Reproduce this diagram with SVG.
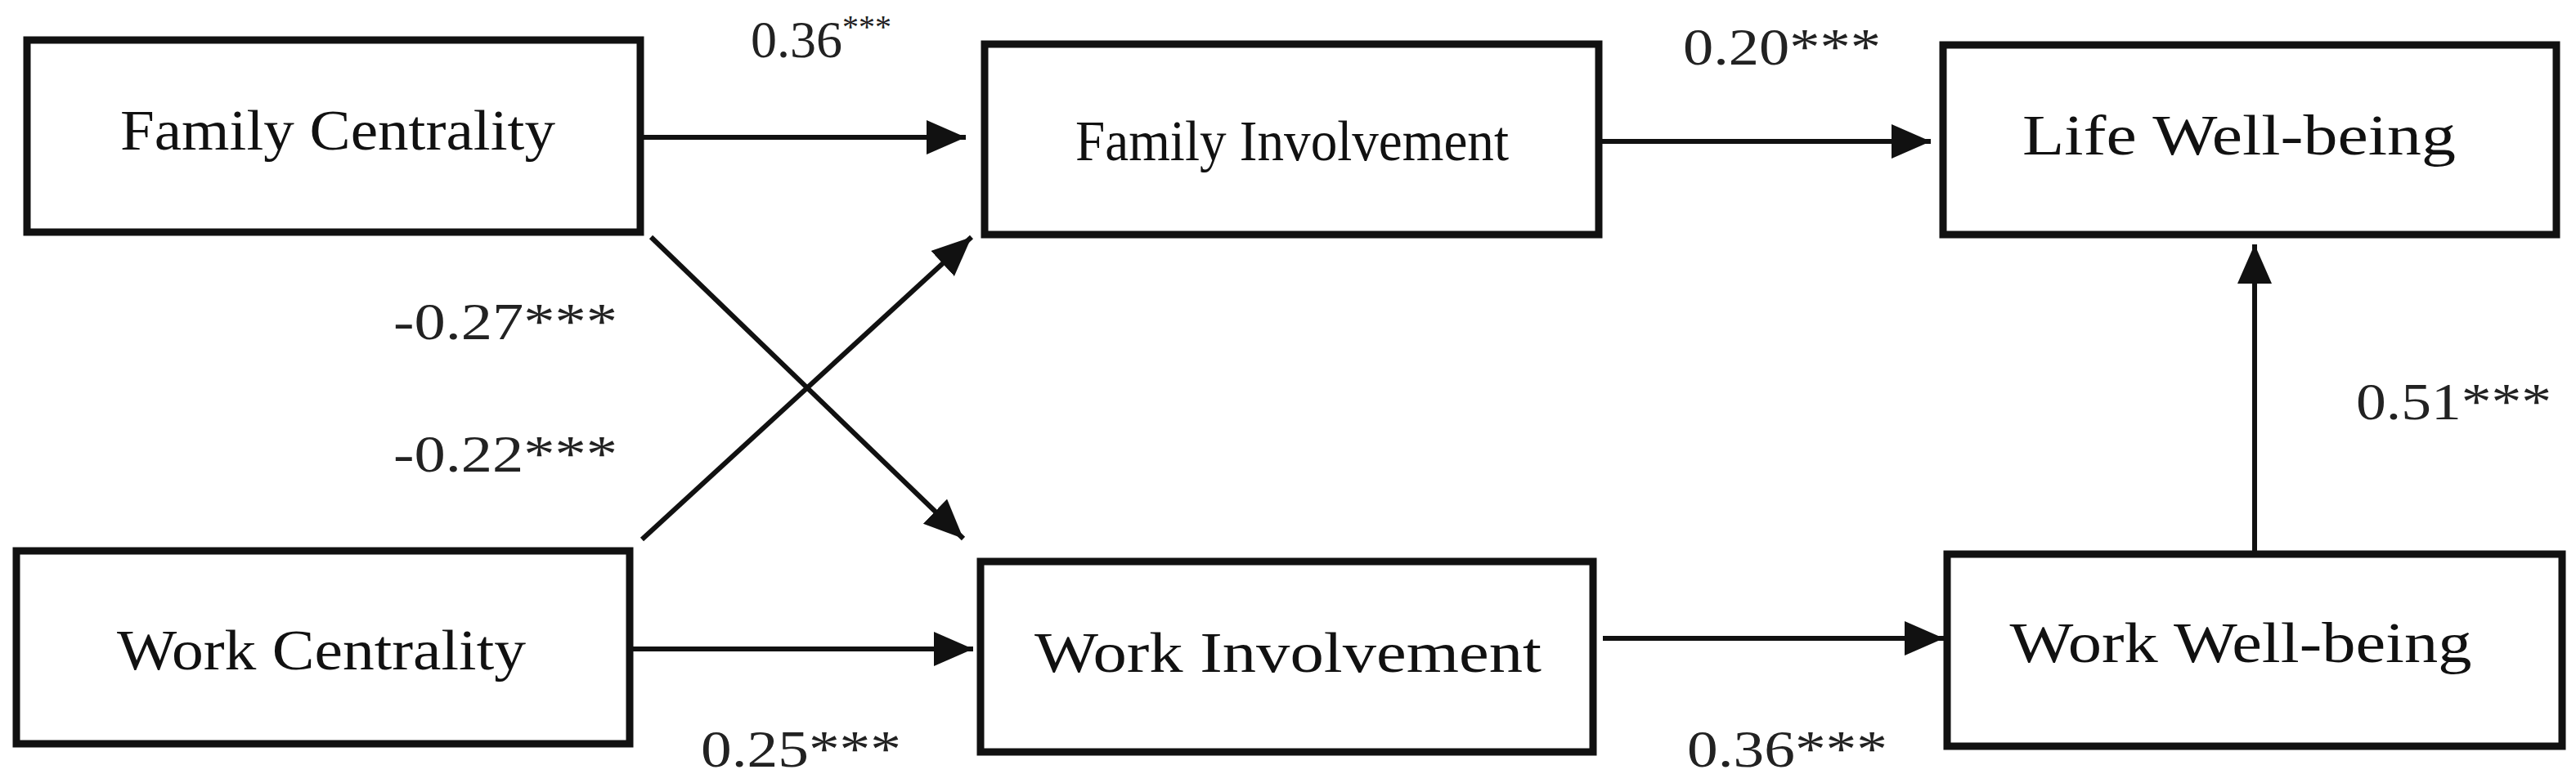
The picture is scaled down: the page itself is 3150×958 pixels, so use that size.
<svg xmlns="http://www.w3.org/2000/svg" width="3150" height="958" viewBox="0 0 3150 958">
<style>
.box{fill:#fff;stroke:#111;stroke-width:9}
.t{font-family:"Liberation Serif","Times New Roman",serif;font-size:70px;fill:#111;text-anchor:middle}
.l{font-family:"Liberation Serif","Times New Roman",serif;font-size:64px;fill:#222}
.c{stroke:#111;stroke-width:6;fill:none;marker-end:url(#ah)}
</style>
<defs>
<marker id="ah" markerUnits="userSpaceOnUse" markerWidth="50" markerHeight="44" refX="48" refY="21" orient="auto">
<path d="M0,0 L48,21 L0,42 Z" fill="#111"/>
</marker>
</defs>
<rect width="3150" height="958" fill="#fff"/>
<g id="connectors">
<line class="c" x1="787" y1="168" x2="1181" y2="168"/>
<line class="c" x1="1955" y1="173" x2="2361" y2="173"/>
<line class="c" x1="796" y1="290" x2="1178" y2="659"/>
<line class="c" x1="785" y1="660" x2="1188" y2="290"/>
<line class="c" x1="770" y1="794" x2="1190" y2="794"/>
<line class="c" x1="1960" y1="781" x2="2377" y2="781"/>
<line class="c" x1="2757" y1="678" x2="2757" y2="299"/>
</g>
<g id="labels">
<text class="l" x="918" y="70">0.36<tspan font-size="40" dy="-24">***</tspan></text>
<text class="l" x="2058" y="79" textLength="242" lengthAdjust="spacingAndGlyphs">0.20***</text>
<text class="l" x="481" y="415" textLength="274" lengthAdjust="spacingAndGlyphs">-0.27***</text>
<text class="l" x="481" y="577" textLength="274" lengthAdjust="spacingAndGlyphs">-0.22***</text>
<text class="l" x="2881" y="513" textLength="239" lengthAdjust="spacingAndGlyphs">0.51***</text>
<text class="l" x="857" y="938" textLength="245" lengthAdjust="spacingAndGlyphs">0.25***</text>
<text class="l" x="2063" y="938" textLength="245" lengthAdjust="spacingAndGlyphs">0.36***</text>
</g>
<g id="family-centrality"><rect class="box" x="33" y="49" width="750" height="235"/><text class="t" x="413" y="183" textLength="532" lengthAdjust="spacingAndGlyphs">Family Centrality</text></g>
<g id="family-involvement"><rect class="box" x="1204" y="54" width="751" height="233"/><text class="t" x="1580" y="196" textLength="530" lengthAdjust="spacingAndGlyphs">Family Involvement</text></g>
<g id="life-well-being"><rect class="box" x="2376" y="55" width="750" height="232"/><text class="t" x="2738" y="189" textLength="530" lengthAdjust="spacingAndGlyphs">Life Well-being</text></g>
<g id="work-centrality"><rect class="box" x="20" y="674" width="750" height="236"/><text class="t" x="393" y="819" textLength="500" lengthAdjust="spacingAndGlyphs">Work Centrality</text></g>
<g id="work-involvement"><rect class="box" x="1199" y="687" width="749" height="233"/><text class="t" x="1575" y="822" textLength="620" lengthAdjust="spacingAndGlyphs">Work Involvement</text></g>
<g id="work-well-being"><rect class="box" x="2381" y="678" width="752" height="235"/><text class="t" x="2740" y="810" textLength="565" lengthAdjust="spacingAndGlyphs">Work Well-being</text></g>
</svg>
